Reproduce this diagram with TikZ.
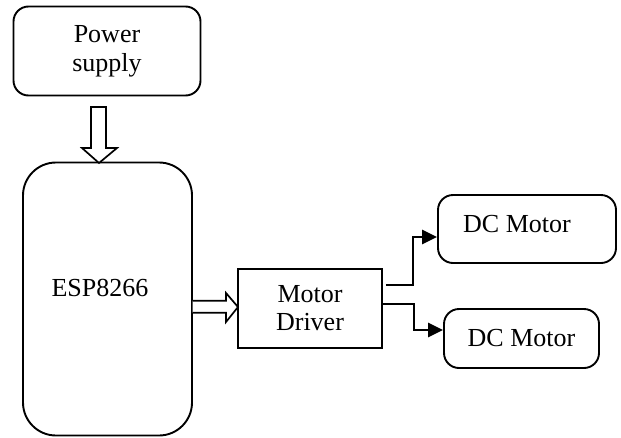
\documentclass[tikz,border=0pt]{standalone}
\usepackage{fontspec}
\setmainfont{Liberation Serif}
\usetikzlibrary{arrows.meta,calc}
\begin{document}
\begin{tikzpicture}[x=1pt,y=-1pt,
  box/.style={draw,line width=1.9pt,inner sep=0pt,align=center,font=\fontsize{26}{30}\selectfont},
  rbox/.style={box,rounded corners=#1},
  lbl/.style={inner sep=0pt,align=center,font=\fontsize{26}{30}\selectfont},
  conn/.style={line width=2.8pt,-{Triangle[length=15pt,width=14pt]}},
  hollow/.style={draw,line width=1.7pt,fill=white,line join=miter}]
\useasboundingbox (0,0) rectangle (621,437);
\node[rbox=15pt,minimum width=187pt,minimum height=89pt] (ps) at (107,51) {Power\\[-1pt]supply};
\node[rbox=33pt,minimum width=169pt,minimum height=273pt] (esp) at (107.5,299) {};
\node[lbl] (espl) at (100,288) {ESP8266};
\node[box,minimum width=144pt,minimum height=79pt] (md) at (310,308.5) {Motor\\[-2pt]Driver};
\node[rbox=15pt,minimum width=178pt,minimum height=68pt] (dc1) at (527,229) {};
\node[lbl] (dc1l) at (517,224.5) {DC Motor};
\node[rbox=15pt,minimum width=155pt,minimum height=59pt] (dc2) at (521.5,338.5) {DC Motor};
% hollow arrow power -> esp
\draw[hollow] (91,107) -- (106,107) -- (106,148) -- (117,148) -- (99,163) -- (82,148) -- (91,148) -- cycle;
% hollow arrow esp -> driver
\draw[hollow] (192.5,300.7) -- (226,300.7) -- (226,293) -- (238,307) -- (226,322) -- (226,312.7) -- (192.5,312.7);
% connectors
\draw[conn,line join=miter] ($(md.east)+(3,-23.5)$) -- ++(27,0) |- ([yshift=-8pt]dc1.west);
\draw[conn,line join=miter] ($(md.east)+(0,-4.5)$) -- ++(31,0) |- ([yshift=8.5pt]dc2.west);
\end{tikzpicture}
\end{document}
